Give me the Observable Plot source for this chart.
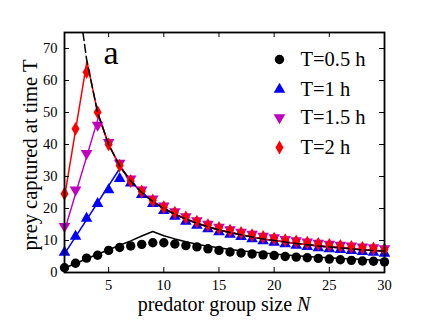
<!DOCTYPE html>
<html><head><meta charset="utf-8">
<script src="https://cdn.jsdelivr.net/npm/d3@7"></script>
<script src="https://cdn.jsdelivr.net/npm/@observablehq/plot@0.6"></script>
<style>html,body{margin:0;padding:0;background:#fff;}</style>
</head><body><div id="chart"></div>
<script>
// ---- data ----
const groupSize = [1,2,3,4,5,6,7,8,9,10,11,12,13,14,15,16,17,18,19,20,21,22,23,24,25,26,27,28,29,30];
const capturedT05 = [1.5,2.9,4.5,5.4,6.9,7.8,8.3,8.8,9.3,9.3,8.9,8.4,8.0,7.4,6.9,6.4,6.1,5.8,5.5,5.3,5.0,4.8,4.6,4.4,4.2,4.0,3.8,3.6,3.5,3.3];
const capturedT1  = [6.3,11.3,16.9,21.5,25.8,29.3,27.9,24.3,21.5,19.3,17.5,16.0,14.7,13.6,12.7,11.9,11.2,10.5,9.9,9.4,8.9,8.5,8.1,7.7,7.4,7.1,6.8,6.5,6.3,6.0];
const capturedT15 = [14.4,25.8,37.2,46.1,40.7,34.2,29.3,25.8,23.0,20.8,19.0,17.5,16.2,15.1,14.2,13.4,12.6,12.0,11.4,10.9,10.4,10.0,9.6,9.2,8.9,8.6,8.3,8.0,7.8,7.5];
const capturedT2  = [24.6,44.9,62.6,50.1,40.0,33.4,28.6,25.3,22.5,20.4,18.7,17.2,15.9,14.8,13.9,13.1,12.4,11.7,11.1,10.6,10.1,9.7,9.3,8.9,8.6,8.3,8.0,7.7,7.5,7.2];

// model lines (vertices)
const modelT05N = [1,2,3,4,5,6,7,8,9,10,11,12,13,14,15,16,17,18,19,20,21,22,23,24,25,26,27,28,29,30];
const modelT05V = [1.4,2.8,4.3,5.7,7.1,8.5,9.9,11.4,12.8,11.5,10.5,9.6,8.8,8.2,7.7,7.2,6.8,6.4,6.1,5.75,5.5,5.2,5.0,4.8,4.6,4.4,4.3,4.1,4.0,3.8];
const modelT1N = [1,6.08,7,8,9,10,11,12,13,14,15,16,17,18,19,20,21,22,23,24,25,26,27,28,29,30];
const modelT1V = [5.8,32.9,28.6,25,22.2,20,18.2,16.7,15.4,14.3,13.3,12.5,11.8,11.1,10.5,10,9.5,9.1,8.7,8.3,8,7.7,7.4,7.1,6.9,6.7];
const modelT15N = [1,4.1,5,6,7,8,9,10,11,12,13,14,15,16,17,18,19,20,21,22,23,24,25,26,27,28,29,30];
const modelT15V = [13,48.8,40,33.3,28.6,25,22.2,20,18.2,16.7,15.4,14.3,13.3,12.5,11.8,11.1,10.5,10,9.5,9.1,8.7,8.3,8,7.7,7.4,7.1,6.9,6.7];
const modelT2N = [1,3.03,4,5,6,7,8,9,10,11,12,13,14,15,16,17,18,19,20,21,22,23,24,25,26,27,28,29,30];
const modelT2V = [23.5,66,50,40,33.3,28.6,25,22.2,20,18.2,16.7,15.4,14.3,13.3,12.5,11.8,11.1,10.5,10,9.5,9.1,8.7,8.3,8,7.7,7.4,7.1,6.9,6.7];
// dashed limit curve
const limitN = [2.67,3,4,5,6,7,8,9,10,11,12,13,14,15,16,17,18,19,20,21,22,23,24,25,26,27,28,29,30];
const limitV = [75,66.7,50,40,33.3,28.6,25,22.2,20,18.2,16.7,15.4,14.3,13.3,12.5,11.8,11.1,10.5,10,9.5,9.1,8.7,8.3,8,7.7,7.4,7.1,6.9,6.7];

const seriesLabels = ["T=0.5 h","T=1 h","T=1.5 h","T=2 h"];
const xTicks = [5,10,15,20,25,30];
const yTicks = [0,10,20,30,40,50,60,70];

// ---- styling ----
const colors = ["#000000","#0000ff","#bf00bf","#ff0000"];
const W = 427, H = 321, mL = 64, mR = 43, mT = 32, mB = 49;
const fw = W - mL - mR, fh = H - mT - mB, tl = 5;
const serif = "'Liberation Serif','Times New Roman',serif";

const triDown = {draw(ctx, size){ const y = Math.sqrt(size/(Math.sqrt(3)*3)); ctx.moveTo(0, 2*y); ctx.lineTo(-Math.sqrt(3)*y, -y); ctx.lineTo(Math.sqrt(3)*y, -y); ctx.closePath(); }};
const symbols = ["circle","triangle",triDown,"diamond"];
const radii = [4.7,4.3,4.3,4.2];

const pts = (xs, ys) => xs.map((x,i) => ({x, y: ys[i]}));
const series = [capturedT05, capturedT1, capturedT15, capturedT2].map(v => pts(groupSize, v));
const models = [pts(modelT05N, modelT05V), pts(modelT1N, modelT1V), pts(modelT15N, modelT15V), pts(modelT2N, modelT2V)];

const marks = [];
models.forEach((m,i) => marks.push(Plot.line(m, {x:"x", y:"y", stroke: colors[i], strokeWidth: 1.5, clip: true})));
series.forEach((s,i) => marks.push(Plot.dot(s, {x:"x", y:"y", symbol: symbols[i], r: radii[i], fill: colors[i], stroke: "none"})));
marks.push(Plot.line(pts(limitN, limitV), {x:"x", y:"y", stroke:"#000", strokeWidth:1.5, strokeDasharray:"8,4", clip:true}));
// inward ticks on all four sides
marks.push(Plot.tickX(xTicks, {x: d=>d, insetTop: fh - tl, stroke:"#000", strokeWidth:1}));
marks.push(Plot.tickX(xTicks, {x: d=>d, insetBottom: fh - tl, stroke:"#000", strokeWidth:1}));
marks.push(Plot.tickY(yTicks, {y: d=>d, insetRight: fw - tl, stroke:"#000", strokeWidth:1}));
marks.push(Plot.tickY(yTicks, {y: d=>d, insetLeft: fw - tl, stroke:"#000", strokeWidth:1}));
marks.push(Plot.axisX(xTicks, {tickSize:0, tickPadding:7, label:null, fontSize:14.5}));
marks.push(Plot.axisY(yTicks, {tickSize:0, tickPadding:7, label:null, fontSize:14.5}));
marks.push(Plot.frame({stroke:"#000", strokeWidth:1.8}));
// panel letter
marks.push(Plot.text(["a"], {text: d=>d, frameAnchor:"top-left", dx:39, dy:31, lineAnchor:"bottom", textAnchor:"start", fontSize:34, fill:"#000"}));
// legend
const legendDy = [27,57,85,115];
seriesLabels.forEach((lab,i) => {
  marks.push(Plot.dot([lab], {frameAnchor:"top-right", dx:-105, dy:legendDy[i], symbol: symbols[i], r: radii[i], fill: colors[i], stroke:"none"}));
  marks.push(Plot.text([lab], {text: d=>d, frameAnchor:"top-right", dx:-84, dy:legendDy[i], textAnchor:"start", lineAnchor:"middle", fontSize:20.5, fill:"#000"}));
});

const chart = Plot.plot({
  width: W, height: H, marginLeft: mL, marginRight: mR, marginTop: mT, marginBottom: mB,
  style: {fontFamily: serif, fontSize: "14.5px", color: "#000", background: "#fff"},
  x: {domain: [1,30], axis: null},
  y: {domain: [0,75], axis: null},
  marks
});
document.getElementById("chart").appendChild(chart);

// axis titles (with italic N)
const svg = d3.select(chart);
const xl = svg.append("text").attr("x", mL + fw/2).attr("y", 310.5).attr("text-anchor","middle")
  .attr("font-family", serif).attr("font-size", 20).attr("fill","#000");
xl.append("tspan").text("predator group size ");
xl.append("tspan").attr("font-style","italic").text("N");
svg.append("text").attr("transform", "translate(37,155) rotate(-90)").attr("text-anchor","middle")
  .attr("font-family", serif).attr("font-size", 20.5).attr("fill","#000").text("prey captured at time T");
</script>
</body></html>
